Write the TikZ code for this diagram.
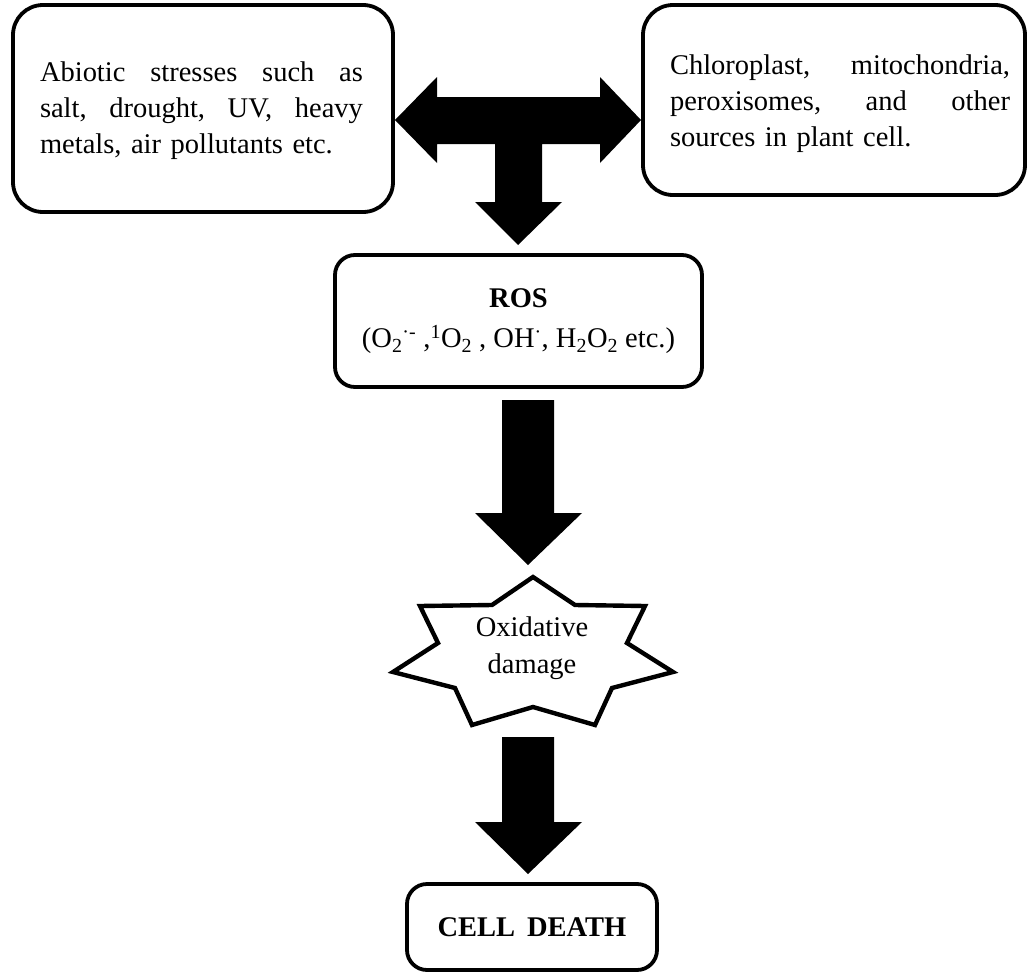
\documentclass[tikz,border=0pt]{standalone}
\usepackage{fontspec}
\setmainfont{Liberation Serif}
\begin{document}
\begin{tikzpicture}[x=1pt,y=-1pt,
  txt/.style={font=\fontsize{28.5}{36}\selectfont,inner sep=0pt},
  rbox/.style={draw=black,line width=3.8pt,rounded corners=#1,inner sep=0pt,outer sep=0pt,txt},
  blockarrow/.style={fill=black,draw=none},
  starline/.style={draw=black,line width=4.4pt,line join=miter,fill=white}]
\useasboundingbox (0,0) rectangle (1029,972);

% boxes
\node[rbox=30pt,minimum width=380pt,minimum height=207pt] (abiotic) at (203,108.5) {};
\node[txt,text width=323pt,align=left] (abiotictext) at (201.5,111)
  {Abiotic\hfill stresses\hfill such\hfill as\\ salt,\hfill drought,\hfill UV,\hfill heavy\\ metals, air pollutants etc.};
\node[rbox=30pt,minimum width=382pt,minimum height=190pt] (sources) at (834,100) {};
\node[txt,text width=340pt,align=left] (sourcestext) at (840,104)
  {Chloroplast,\hfill mitochondria,\\ peroxisomes,\hfill and\hfill other\\ sources in plant cell.};
\node[rbox=20pt,minimum width=367pt,minimum height=132pt,align=center,font=\fontsize{28.5}{40}\selectfont] (ros) at (518.5,321)
  {\textbf{ROS}\\(O\textsubscript{2}\textsuperscript{·-} ,\textsuperscript{1}O\textsubscript{2} , OH\textsuperscript{·}, H\textsubscript{2}O\textsubscript{2} etc.)};

% star
\draw[starline] (533,577) -- (575,605) -- (645,606) -- (627,643) -- (673,672) -- (612,688) -- (595,725)
  -- (533,707) -- (472,725) -- (455,688) -- (393,672) -- (438,643) -- (420,606) -- (492,605) -- cycle;
\node[txt,align=center,font=\fontsize{28.5}{37}\selectfont] (ox) at (532,648) {Oxidative\\damage};

\node[rbox=20pt,minimum width=250pt,minimum height=86pt] (death) at (532,927) {\textbf{CELL\, DEATH}};

% T arrow
\fill[blockarrow] (395,120) -- (437,77) -- (437,97) -- (600,97) -- (600,77) -- (641,120) -- (600,163) -- (600,144)
  -- (542,144) -- (542,202) -- (562,202) -- (518,245) -- (475,202) -- (495,202) -- (495,144)
  -- (437,144) -- (437,163) -- cycle;
% ROS -> oxidative damage
\fill[blockarrow] (502,400) -- (554,400) -- (554,513) -- (582,513) -- (528,565) -- (475,513) -- (502,513) -- cycle;
% oxidative damage -> cell death
\fill[blockarrow] (502,737) -- (554,737) -- (554,822) -- (582,822) -- (528,874) -- (475,822) -- (502,822) -- cycle;
\end{tikzpicture}
\end{document}
